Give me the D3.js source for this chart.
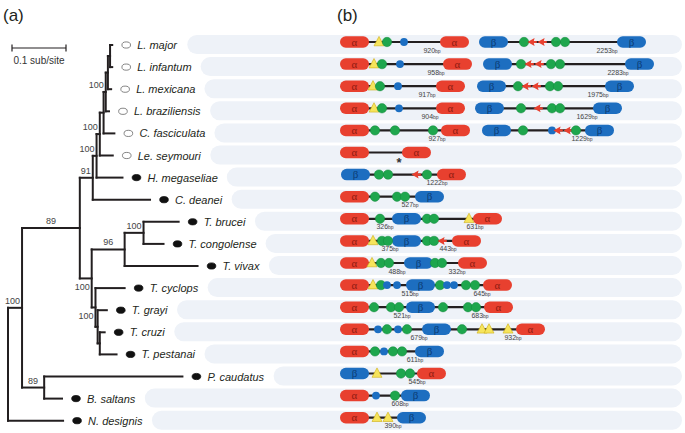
<!DOCTYPE html>
<html>
<head>
<meta charset="utf-8">
<script src="https://cdn.jsdelivr.net/npm/d3@7"></script>
<style>
  body { margin: 0; background: #fff; }
  svg { display: block; font-family: "Liberation Sans", Arial, sans-serif; }
</style>
</head>
<body>
<div id="chart"></div>
<script>
// ---- data ----
var taxa = ["L. major", "L. infantum", "L. mexicana", "L. braziliensis", "C. fasciculata",
  "Le. seymouri", "H. megaseliae", "C. deanei", "T. brucei", "T. congolense", "T. vivax",
  "T. cyclops", "T. grayi", "T. cruzi", "T. pestanai", "P. caudatus", "B. saltans", "N. designis"];

var openMarker = ["L. major", "L. infantum", "L. mexicana", "L. braziliensis", "C. fasciculata", "Le. seymouri"];

// branch lengths in sub/site, internal labels = bootstrap support
var treeNewick =
  "(((((((((((L. major:0.004,L. infantum:0.004):0.004,L. mexicana:0.006):0.004,L. braziliensis:0.006)100:0.004," +
  "C. fasciculata:0.020):0.007,Le. seymouri:0.024)100:0.006,H. megaseliae:0.048)100:0.007,C. deanei:0.106)91:0.024," +
  "(((T. brucei:0.065,T. congolense:0.037)100:0.035,T. vivax:0.135)96:0.061," +
  "(T. cyclops:0.054,(T. grayi:0.017,(T. cruzi:0.009,T. pestanai:0.031):0.004):0.004)100:0.007)100:0.022)89:0.107," +
  "(P. caudatus:0.256,B. saltans:0.033)89:0.041)100:0.026,N. designis:0.102);";

var scaleBarLength = 0.1;

// gene clusters per taxon: A = alpha gene, B = beta gene, g = green, u = blue, t = triangle, r = red arrow, x = asterisk
// positions along the schematic locus
var loci = [
  [[["A",0],["t",39],["g",47],["u",64],["A",100]], [["B",139],["g",184],["r",192],["r",202],["g",216],["g",225],["B",277]]],
  [[["A",0],["t",34],["g",42],["u",60],["A",103]], [["B",143],["g",181],["r",189],["r",199],["g",211],["g",220],["B",285]]],
  [[["A",0],["t",33],["g",40],["u",58],["A",96]], [["B",137],["g",178],["r",186],["r",196],["g",210],["g",218],["B",265]]],
  [[["A",0],["t",34],["g",42],["u",59],["A",96]], [["B",135],["g",181],["r",198],["g",212],["g",220],["B",253]]],
  [[["A",0],["g",35],["g",55],["g",93],["A",101]], [["B",142],["g",183],["u",212],["r",218],["r",228],["g",236],["B",245]]],
  [[["A",0],["x",59],["A",62]]],
  [[["B",1],["g",39],["g",48],["r",76],["g",87],["A",97]]],
  [[["A",0],["g",35],["g",57],["g",65],["B",75]]],
  [[["A",0],["g",40],["B",52],["g",87],["g",94],["t",129],["A",133]]],
  [[["A",0],["t",33],["g",42],["g",48],["B",52],["g",87],["g",94],["r",102],["A",112]]],
  [[["A",0],["t",32],["g",41],["g",49],["B",64],["g",95],["g",102],["A",118]]],
  [[["A",0],["t",33],["g",41],["u",47],["u",57],["B",66],["g",100],["u",107],["u",114],["g",126],["g",135],["A",143]]],
  [[["A",0],["g",34],["g",51],["g",59],["B",66],["g",103],["g",128],["g",136],["A",144]]],
  [[["A",0],["u",38],["g",47],["u",58],["g",67],["B",82],["g",122],["t",142],["t",149],["t",168],["A",176]]],
  [[["A",0],["g",35],["u",44],["g",53],["g",62],["B",75]]],
  [[["B",0],["t",37],["g",61],["g",70],["A",77]]],
  [[["A",0],["u",36],["g",55],["B",61]]],
  [[["A",0],["t",37],["t",48],["B",57]]]
];

// intergenic sizes (bp) and where they are written
var bpLabels = [
  [[920,92],[2253,267]],
  [[958,96],[2283,278]],
  [[917,87],[1975,258]],
  [[904,90],[1629,247]],
  [[927,97],[1229,242]],
  [],
  [[1222,97]],
  [[527,70]],
  [[326,45],[631,135]],
  [[375,50],[443,108]],
  [[488,57],[332,117]],
  [[515,70],[645,142]],
  [[521,62],[683,140]],
  [[679,79],[932,173]],
  [[611,75]],
  [[545,77]],
  [[608,60]],
  [[390,53]]
];

// ---- helpers ----
function parseNewick(s){
  var i = 0;
  function node(){
    var n = {children: [], name: "", length: 0};
    if(s[i] === "("){
      i++;
      n.children.push(node());
      while(s[i] === ","){ i++; n.children.push(node()); }
      i++;
    }
    var name = "";
    while(i < s.length && ":,();".indexOf(s[i]) < 0) name += s[i++];
    n.name = name.trim();
    if(s[i] === ":"){
      i++;
      var num = "";
      while(i < s.length && ",();".indexOf(s[i]) < 0) num += s[i++];
      n.length = +num;
    }
    return n;
  }
  return node();
}

var W = 685, H = 433;
var ink = "#231f20";
var svg = d3.select("#chart").append("svg").attr("width", W).attr("height", H);

var yRow = d3.scalePoint().domain(taxa).range([45, 420.7]);
var xTree = d3.scaleLinear().domain([0, 0.1]).range([8, 62]);
var xGene = d3.scaleLinear().domain([0, 340]).range([340, 680]);

var gBands = svg.append("g");
var gTree = svg.append("g");
var gGenes = svg.append("g");

// panel letters
svg.append("text").attr("x", 3).attr("y", 21).attr("font-size", 17).attr("fill", ink).text("(a)");
svg.append("text").attr("x", 337).attr("y", 21).attr("font-size", 17).attr("fill", ink).text("(b)");

// ---- tree ----
var root = d3.hierarchy(parseNewick(treeNewick), function(d){ return d.children.length ? d.children : null; });
root.eachBefore(function(d){
  d.len = d.parent ? d.parent.len + d.data.length : 0;
  d.x = xTree(d.len);
});
root.eachAfter(function(d){
  d.y = d.children ? (d.children[0].y + d.children[d.children.length - 1].y) / 2 : yRow(d.data.name);
});

var nodes = root.descendants();

gTree.selectAll("line.h").data(nodes.filter(function(d){ return d.parent; }))
  .enter().append("line")
  .attr("x1", function(d){ return d.parent.x; })
  .attr("x2", function(d){ return d.x; })
  .attr("y1", function(d){ return d.y; })
  .attr("y2", function(d){ return d.y; })
  .attr("stroke", ink).attr("stroke-width", 2).attr("stroke-linecap", "square");

gTree.selectAll("line.v").data(nodes.filter(function(d){ return d.children; }))
  .enter().append("line")
  .attr("x1", function(d){ return d.x; })
  .attr("x2", function(d){ return d.x; })
  .attr("y1", function(d){ return d.children[0].y; })
  .attr("y2", function(d){ return d.children[d.children.length - 1].y; })
  .attr("stroke", ink).attr("stroke-width", 2).attr("stroke-linecap", "square");

// support values, centred on the branch above it (two sit below)
var supportBelow = ["T. brucei|T. pestanai", "T. cyclops|T. pestanai"];
nodes.filter(function(d){ return d.children && d.parent && d.data.name; }).forEach(function(d){
  var lv = d.leaves();
  var key = lv[0].data.name + "|" + lv[lv.length - 1].data.name;
  var t = gTree.append("text").attr("font-size", 9).attr("fill", "#444")
    .attr("text-anchor", "end").text(d.data.name);
  var w = t.node().getComputedTextLength();
  var xe = Math.min((d.parent.x + d.x) / 2 + w / 2, d.x - 2);
  t.attr("x", xe).attr("y", supportBelow.indexOf(key) >= 0 ? d.y + 12 : d.y - 4);
});

// tips: markers + names
var leaves = root.leaves();
gTree.selectAll("ellipse").data(leaves).enter().append("ellipse")
  .attr("cx", function(d){ return d.x + 14; })
  .attr("cy", function(d){ return d.y; })
  .attr("rx", 4.3).attr("ry", 3.1)
  .attr("fill", function(d){ return openMarker.indexOf(d.data.name) >= 0 ? "#fff" : "#111"; })
  .attr("stroke", function(d){ return openMarker.indexOf(d.data.name) >= 0 ? "#666" : "#111"; })
  .attr("stroke-width", 0.8);

var names = gTree.selectAll("text.taxon").data(leaves).enter().append("text")
  .attr("class", "taxon")
  .attr("x", function(d){ return d.x + 25; })
  .attr("y", function(d){ return d.y + 4; })
  .attr("font-size", 11).attr("font-style", "italic").attr("fill", ink)
  .text(function(d){ return d.data.name; });

// background bands start just after each name
names.each(function(d){
  var bb = this.getBBox();
  var x0 = bb.x + bb.width + 9;
  gBands.append("rect")
    .attr("x", x0).attr("y", d.y - 10)
    .attr("width", 682 - x0).attr("height", 19)
    .attr("rx", 9.5)
    .attr("fill", "#eef2f8");
});

// scale bar
var sb = xTree(scaleBarLength) - xTree(0);
var sbx = 12, sby = 48;
gTree.append("line").attr("x1", sbx).attr("x2", sbx + sb).attr("y1", sby).attr("y2", sby)
  .attr("stroke", ink).attr("stroke-width", 1.2);
[sbx, sbx + sb].forEach(function(x){
  gTree.append("line").attr("x1", x).attr("x2", x).attr("y1", sby - 3.5).attr("y2", sby + 3.5)
    .attr("stroke", ink).attr("stroke-width", 1.2);
});
gTree.append("text").attr("x", sbx + sb / 2).attr("y", 64).attr("text-anchor", "middle")
  .attr("font-size", 10).attr("fill", "#333").text("0.1 sub/site");

// ---- gene structures ----
var geneLen = 29;
var pillH = 11.5;
var colors = {
  A: "#e8402f", Atext: "#8e1b12",
  B: "#1d6ec0", Btext: "#0c3c75",
  g: "#1ea64d", u: "#1b6ec2",
  t: "#f6e45c", r: "#e8402f"
};
var triPath = "M0,-5.6L5,3.8L-5,3.8Z";
var arrowPath = "M-4.5,0L2.6,-4L1.8,-1.1L4.8,-1.1L4.8,1.1L1.8,1.1L2.6,4Z";

taxa.forEach(function(name, i){
  var gy = yRow(name) - 3;
  var row = gGenes.append("g");

  loci[i].forEach(function(cluster){
    var pills = cluster.filter(function(e){ return e[0] === "A" || e[0] === "B"; });
    var lo = d3.min(pills, function(e){ return e[1]; });
    var hi = d3.max(pills, function(e){ return e[1] + geneLen; });
    row.append("line")
      .attr("x1", xGene(lo + 6)).attr("x2", xGene(hi - 6))
      .attr("y1", gy).attr("y2", gy)
      .attr("stroke", ink).attr("stroke-width", 2.2);

    pills.forEach(function(e){
      var x0 = xGene(e[1]), w = xGene(e[1] + geneLen) - x0;
      row.append("rect").attr("x", x0).attr("y", gy - pillH / 2)
        .attr("width", w).attr("height", pillH).attr("rx", pillH / 2)
        .attr("fill", colors[e[0]]);
      row.append("text").attr("x", x0 + w / 2).attr("y", gy + 3.6)
        .attr("text-anchor", "middle")
        .attr("font-family", "'Liberation Serif', 'DejaVu Serif', serif")
        .attr("font-size", 11)
        .attr("fill", colors[e[0] + "text"])
        .text(e[0] === "A" ? "α" : "β");
    });

    cluster.filter(function(e){ return !(e[0] === "A" || e[0] === "B"); }).forEach(function(e){
      var x = xGene(e[1]);
      if(e[0] === "g"){
        row.append("circle").attr("cx", x).attr("cy", gy).attr("r", 4.7)
          .attr("fill", colors.g).attr("stroke", "#158a3c").attr("stroke-width", 0.5);
      } else if(e[0] === "u"){
        row.append("circle").attr("cx", x).attr("cy", gy).attr("r", 3.9)
          .attr("fill", colors.u);
      } else if(e[0] === "t"){
        row.append("path").attr("d", triPath).attr("transform", "translate(" + x + "," + gy + ")")
          .attr("fill", colors.t).attr("stroke", "#cfae12").attr("stroke-width", 0.6);
      } else if(e[0] === "r"){
        row.append("path").attr("d", arrowPath).attr("transform", "translate(" + x + "," + gy + ")")
          .attr("fill", colors.r);
      } else if(e[0] === "x"){
        row.append("text").attr("x", x).attr("y", gy + 14).attr("text-anchor", "middle")
          .attr("font-size", 13).attr("font-weight", "bold").attr("fill", "#333").text("*");
      }
    });
  });

  bpLabels[i].forEach(function(b){
    var t = row.append("text").attr("x", xGene(b[1])).attr("y", gy + 10.5)
      .attr("text-anchor", "middle").attr("fill", "#444");
    t.append("tspan").attr("font-size", 7).text(b[0]);
    t.append("tspan").attr("font-size", 5).text("bp");
  });
});
</script>
</body>
</html>
